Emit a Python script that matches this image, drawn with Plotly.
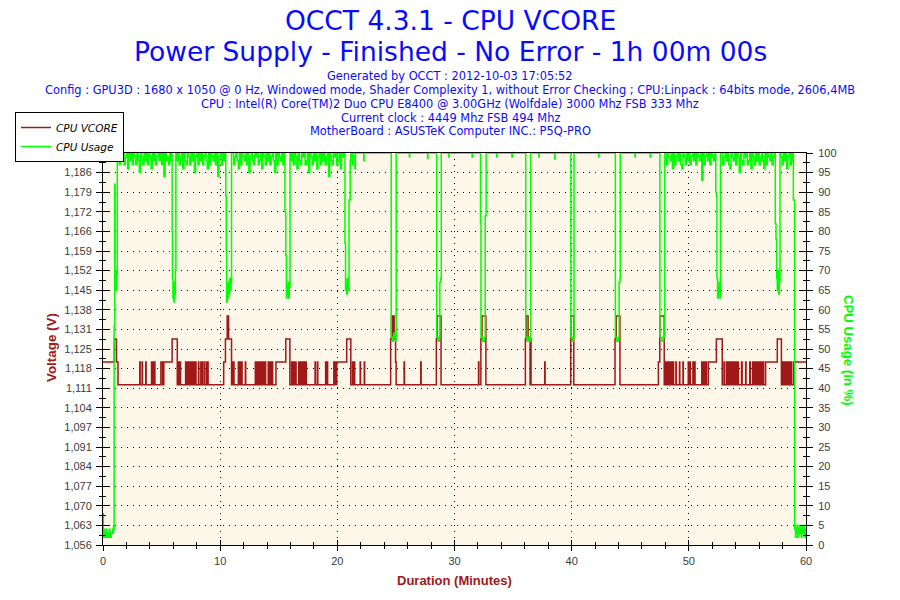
import plotly.graph_objects as go

# ---------------- text ----------------
title_lines = ["OCCT 4.3.1 - CPU VCORE",
               "Power Supply - Finished - No Error - 1h 00m 00s"]
info_lines = [
    "Generated by OCCT : 2012-10-03 17:05:52",
    "Config : GPU3D : 1680 x 1050 @ 0 Hz, Windowed mode, Shader Complexity 1, without Error Checking ; CPU:Linpack : 64bits mode, 2606,4MB",
    "CPU : Intel(R) Core(TM)2 Duo CPU E8400 @ 3.00GHz (Wolfdale) 3000 Mhz FSB 333 Mhz",
    "Current clock : 4449 Mhz FSB 494 Mhz",
    "MotherBoard : ASUSTeK Computer INC.: P5Q-PRO",
]
x_title = "Duration (Minutes)"
y_title = "Voltage (V)"
y2_title = "CPU Usage (in %)"
series_names = ["CPU VCORE", "CPU Usage"]

# ---------------- axes ----------------
duration_range = [0, 60]
voltage_range = [1.056, 1.193]
voltage_ticktext = ["1,056", "1,063", "1,070", "1,077", "1,084", "1,091", "1,097",
                    "1,104", "1,111", "1,118", "1,125", "1,131", "1,138", "1,145",
                    "1,152", "1,159", "1,166", "1,172", "1,179", "1,186", "1,193"]
usage_range = [0, 100]

# ---------------- CPU VCORE (minute, volt) step changes ----------------
vcore_steps = [
    (0.00, 1.120), (0.97, 1.128), (1.15, 1.120), (1.28, 1.112),
    (3.14, 1.120), (3.17, 1.112), (3.34, 1.120), (3.37, 1.112), (3.65, 1.120), (3.68, 1.112),
    (4.14, 1.120), (4.17, 1.112), (4.22, 1.120), (4.26, 1.112), (4.33, 1.120), (4.36, 1.112),
    (4.40, 1.120), (4.43, 1.112),
    (4.94, 1.120), (5.08, 1.112), (5.11, 1.120), (5.16, 1.112), (5.19, 1.120),
    (5.90, 1.128), (6.34, 1.112),
    (6.38, 1.120), (6.41, 1.112), (6.45, 1.120), (6.47, 1.112), (6.52, 1.120), (6.55, 1.112),
    (6.60, 1.120), (6.62, 1.112), (7.05, 1.120), (7.08, 1.112), (7.15, 1.120), (7.18, 1.112),
    (7.25, 1.120), (7.28, 1.112), (7.35, 1.120), (7.39, 1.112), (7.44, 1.120), (7.46, 1.112),
    (7.50, 1.120), (7.55, 1.112), (7.60, 1.120), (7.62, 1.112), (7.70, 1.120), (7.73, 1.112),
    (7.82, 1.120), (7.85, 1.112), (7.92, 1.120), (7.94, 1.112),
    (8.15, 1.120), (8.18, 1.112), (8.35, 1.120), (8.38, 1.112), (8.45, 1.120), (8.47, 1.112),
    (8.62, 1.120), (8.64, 1.112), (8.80, 1.120), (8.83, 1.112), (8.95, 1.120), (8.97, 1.112),
    (10.30, 1.120), (10.45, 1.128), (10.60, 1.136), (10.72, 1.128), (10.97, 1.112),
    (11.00, 1.120), (11.03, 1.112), (11.08, 1.120), (11.10, 1.112), (11.15, 1.120), (11.18, 1.112),
    (11.55, 1.120), (11.58, 1.112), (11.65, 1.120), (11.68, 1.112), (11.75, 1.120), (11.78, 1.112),
    (11.85, 1.120), (11.87, 1.112), (12.15, 1.120), (12.18, 1.112),
    (13.00, 1.120), (13.03, 1.112), (13.15, 1.120), (13.19, 1.112), (13.25, 1.120), (13.28, 1.112),
    (13.35, 1.120), (13.37, 1.112), (13.45, 1.120), (13.48, 1.112), (13.60, 1.120), (13.63, 1.112),
    (13.75, 1.120), (13.78, 1.112), (13.85, 1.120), (13.88, 1.112), (14.10, 1.120), (14.14, 1.112),
    (14.20, 1.120), (14.30, 1.112), (14.35, 1.120), (14.40, 1.112), (14.45, 1.120), (14.48, 1.112),
    (14.76, 1.120), (15.60, 1.128), (15.95, 1.112),
    (16.10, 1.120), (16.13, 1.112), (16.20, 1.120), (16.25, 1.112), (16.30, 1.120), (16.33, 1.112),
    (16.45, 1.120), (16.48, 1.112), (16.70, 1.120), (16.73, 1.112), (16.85, 1.120), (16.88, 1.112),
    (16.95, 1.120), (16.98, 1.112), (17.10, 1.120), (17.14, 1.112),
    (17.20, 1.120), (17.24, 1.112), (17.30, 1.120), (17.35, 1.112),
    (18.10, 1.120), (18.13, 1.112), (18.30, 1.120), (18.33, 1.112), (19.00, 1.120), (19.03, 1.112),
    (19.15, 1.120), (19.17, 1.112), (19.70, 1.120), (19.73, 1.112), (19.80, 1.120), (19.85, 1.112),
    (19.95, 1.120), (20.80, 1.128), (21.15, 1.112),
    (21.30, 1.120), (21.34, 1.112), (21.45, 1.120), (21.48, 1.112), (21.95, 1.120), (21.98, 1.112),
    (22.30, 1.120), (22.33, 1.112),
    (24.55, 1.128), (24.62, 1.136), (24.70, 1.128), (24.75, 1.136), (24.85, 1.128), (24.97, 1.120),
    (25.02, 1.112),
    (25.70, 1.120), (25.73, 1.112), (27.12, 1.120), (27.15, 1.112),
    (28.45, 1.128), (28.52, 1.136), (28.85, 1.112),
    (32.05, 1.120), (32.08, 1.112), (32.25, 1.128), (32.35, 1.136), (32.68, 1.112),
    (36.05, 1.128), (36.12, 1.136), (36.28, 1.128), (36.45, 1.112), (36.50, 1.128), (36.53, 1.112),
    (37.70, 1.120), (37.73, 1.112),
    (39.92, 1.136), (40.18, 1.112),
    (43.70, 1.128), (43.80, 1.136), (44.12, 1.112),
    (47.40, 1.120), (47.52, 1.136), (47.90, 1.112),
    (48.00, 1.120), (48.03, 1.112), (48.10, 1.120), (48.14, 1.112), (48.20, 1.120), (48.28, 1.112),
    (48.35, 1.120), (48.38, 1.112), (48.42, 1.120), (48.45, 1.112), (48.50, 1.120), (48.53, 1.112),
    (48.60, 1.120), (48.63, 1.112), (48.66, 1.120), (48.70, 1.112), (48.90, 1.120), (48.93, 1.112),
    (49.20, 1.120), (49.23, 1.112), (49.50, 1.120), (49.53, 1.112), (49.95, 1.120), (49.98, 1.112),
    (50.10, 1.120), (50.13, 1.112), (50.35, 1.120), (50.40, 1.112), (50.50, 1.120), (50.53, 1.112),
    (51.10, 1.120), (51.15, 1.112), (51.25, 1.120), (51.35, 1.112), (51.45, 1.120), (51.50, 1.112),
    (51.66, 1.120), (52.35, 1.128), (52.85, 1.112),
    (53.00, 1.120), (53.03, 1.112), (53.20, 1.120), (53.30, 1.112), (53.35, 1.120), (53.42, 1.112),
    (53.50, 1.120), (53.55, 1.112), (53.62, 1.120), (53.66, 1.112), (53.72, 1.120), (53.75, 1.112),
    (53.85, 1.120), (53.88, 1.112), (53.95, 1.120), (53.98, 1.112), (54.05, 1.120), (54.08, 1.112),
    (54.20, 1.120), (54.23, 1.112), (54.50, 1.120), (54.55, 1.112), (54.85, 1.120), (54.88, 1.112),
    (55.20, 1.120), (55.25, 1.112), (55.45, 1.120), (55.50, 1.112), (55.60, 1.120), (55.66, 1.112),
    (55.72, 1.120), (55.76, 1.112), (55.85, 1.120), (55.88, 1.112), (55.95, 1.120), (55.98, 1.112),
    (56.02, 1.120), (56.05, 1.112), (56.10, 1.120), (56.13, 1.112), (56.22, 1.120), (56.26, 1.112),
    (56.35, 1.120), (56.38, 1.112),
    (56.55, 1.120), (57.55, 1.128), (57.90, 1.112),
    (58.00, 1.120), (58.05, 1.112), (58.10, 1.120), (58.18, 1.112), (58.25, 1.120), (58.28, 1.112),
    (58.40, 1.120), (58.50, 1.112), (58.60, 1.120), (58.63, 1.112), (58.70, 1.120), (58.78, 1.112),
    (58.95, 1.120), (60.00, 1.120),
]

# ---------------- CPU Usage (minute, %) individual readings ----------------
usage_points = [
    (0.00, 8), (0.03, 3), (0.06, 2), (0.10, 4), (0.15, 2), (0.20, 3), (0.25, 2), (0.30, 4),
    (0.35, 2), (0.40, 3), (0.45, 3), (0.50, 2), (0.55, 4), (0.60, 3), (0.65, 2), (0.70, 3),
    (0.75, 3), (0.80, 4), (0.85, 3), (0.90, 5), (0.93, 4), (0.95, 56), (1.00, 92), (1.03, 66),
    (1.08, 70), (1.13, 65), (1.18, 69), (1.22, 100),
    (5.88, 100), (5.90, 80), (5.93, 68), (5.97, 63), (6.01, 66), (6.05, 62), (6.09, 67),
    (6.13, 64), (6.18, 70), (6.22, 100),
    (10.45, 100), (10.48, 89), (10.52, 75), (10.55, 62), (10.60, 66), (10.65, 63), (10.70, 67),
    (10.75, 64), (10.80, 68), (10.85, 65), (10.93, 67), (10.97, 100),
    (15.50, 100), (15.53, 85), (15.60, 74), (15.65, 63), (15.70, 66), (15.75, 64), (15.80, 67),
    (15.85, 63), (15.90, 66), (15.96, 100),
    (20.62, 100), (20.65, 77), (20.70, 65), (20.75, 67), (20.80, 64), (20.85, 68), (20.90, 65),
    (21.00, 88), (21.10, 98), (21.15, 100),
    (21.28, 97), (21.32, 100), (21.50, 96), (21.54, 100), (22.25, 98), (22.28, 100),
    (24.55, 100), (24.60, 53), (24.70, 52), (24.80, 54), (24.90, 53), (24.98, 52), (25.02, 100),
    (26.15, 99), (26.18, 100), (27.70, 98.6), (27.73, 100),
    (28.45, 100), (28.48, 53), (28.60, 52), (28.70, 53), (28.75, 67), (28.83, 68), (28.87, 100),
    (29.50, 99), (29.53, 100), (31.50, 99), (31.53, 100),
    (32.20, 100), (32.22, 82), (32.26, 53), (32.40, 52), (32.55, 53), (32.62, 84), (32.70, 100),
    (33.60, 99), (33.63, 100), (34.90, 99), (34.93, 100),
    (36.05, 100), (36.08, 53), (36.20, 52), (36.35, 53), (36.45, 52), (36.50, 100),
    (37.20, 99), (37.23, 100), (38.55, 98.5), (38.58, 100),
    (39.90, 100), (39.93, 53), (40.05, 52), (40.15, 53), (40.20, 100),
    (42.30, 99), (42.33, 100),
    (43.70, 100), (43.73, 53), (43.85, 52), (44.00, 53), (44.05, 67), (44.12, 68), (44.15, 100),
    (45.40, 99), (45.43, 100), (46.70, 99), (46.73, 100),
    (47.50, 100), (47.53, 53), (47.70, 52), (47.85, 53), (47.95, 100), (48.00, 100),
    (52.25, 100), (52.30, 90), (52.35, 89), (52.40, 68), (52.45, 63), (52.50, 66), (52.55, 64),
    (52.60, 67), (52.65, 63), (52.70, 100),
    (57.35, 100), (57.38, 82), (57.44, 78), (57.50, 68), (57.55, 65), (57.60, 70), (57.65, 64),
    (57.72, 67), (57.78, 100),
    (58.90, 100), (58.92, 88), (59.00, 88), (59.03, 4), (59.06, 5), (59.10, 2), (59.15, 4),
    (59.20, 3), (59.25, 5), (59.30, 2), (59.35, 4), (59.40, 3), (59.45, 5), (59.50, 3),
    (59.55, 4), (59.60, 2), (59.65, 5), (59.70, 3), (59.75, 4), (59.80, 3), (59.85, 5),
    (59.90, 2), (59.95, 4), (60.00, 3),
]

# full-load stretches, one reading every 0.1 minute from the given start minute
usage_sample_interval = 0.1
usage_load_1_start, usage_load_1 = 1.3, [
    99, 97, 100, 98, 100, 97, 99, 100, 96, 100, 98, 100, 97, 100, 99, 97, 100, 98, 95, 100, 99, 97, 100,
    98, 100, 97, 100, 99, 96, 100, 98, 100, 97, 99, 100, 98, 100, 97, 100, 94, 100, 98, 99, 97, 100, 98]
usage_load_2_start, usage_load_2 = 6.3, [
    98, 100, 97, 99, 100, 96, 100, 98, 97, 100, 99, 97, 100, 98, 100, 95, 99, 100, 97, 100, 98,
    100, 97, 99, 100, 98, 96, 100, 97, 100, 99, 98, 100, 97, 100, 94, 99, 100, 97, 100, 98, 100]
usage_load_3_start, usage_load_3 = 11.05, [
    100, 97, 99, 100, 98, 96, 100, 97, 100, 99, 98, 100, 97, 100, 95, 99, 100, 98, 97, 100, 99, 100, 97,
    98, 100, 96, 100, 99, 97, 100, 98, 100, 97, 99, 100, 98, 95, 100, 97, 100, 99, 98, 100, 97, 100]
usage_load_4_start, usage_load_4 = 16.05, [
    98, 100, 97, 100, 99, 96, 100, 98, 97, 100, 99, 100, 97, 98, 100, 95, 100, 99, 97, 100, 98, 100, 96,
    99, 100, 97, 100, 98, 100, 97, 99, 100, 94, 100, 98, 97, 100, 99, 100, 97, 98, 100, 96, 100, 99, 100]
usage_load_5_start, usage_load_5 = 48.1, [
    97, 100, 99, 98, 100, 96, 100, 97, 99, 100, 98, 100, 97, 96, 100, 99, 97, 100, 98, 100, 97,
    99, 100, 98, 100, 97, 100, 99, 98, 100, 93, 100, 97, 99, 100, 98, 100, 97, 100, 99, 98, 100]
usage_load_6_start, usage_load_6 = 52.8, [
    100, 97, 99, 100, 98, 100, 97, 96, 100, 99, 98, 100, 97, 100, 99, 95, 100, 98, 97, 100, 99, 100, 97,
    98, 100, 96, 100, 99, 97, 100, 98, 100, 97, 99, 100, 98, 96, 100, 97, 100, 99, 98, 100, 97, 99, 100]
usage_load_7_start, usage_load_7 = 57.85, [99, 97, 100, 98, 100, 96, 99, 100, 97, 100, 98]

# ---------------- assemble ----------------
vcore_sorted = sorted(vcore_steps, key=lambda p: p[0])
vcore_t = [p[0] for p in vcore_sorted]
vcore_v = [p[1] for p in vcore_sorted]

load_blocks = [
    (usage_load_1_start, usage_load_1), (usage_load_2_start, usage_load_2),
    (usage_load_3_start, usage_load_3), (usage_load_4_start, usage_load_4),
    (usage_load_5_start, usage_load_5), (usage_load_6_start, usage_load_6),
    (usage_load_7_start, usage_load_7),
]
usage_all = list(usage_points)
for start, vals in load_blocks:
    for i, v in enumerate(vals):
        usage_all.append((round(start + i * usage_sample_interval, 3), v))
usage_all.sort(key=lambda p: p[0])
usage_t = [p[0] for p in usage_all]
usage_v = [p[1] for p in usage_all]

# ---------------- styling ----------------
RED = "#A01818"
GREEN = "#00FF00"
BLUE = "#0A0AFF"
BG = "#FDF7E9"
TICKFONT = dict(family="Liberation Sans, Arial", size=11, color="#3C3C3C")

# the page body adds an 8px offset, so the figure is drawn 8px smaller
OFF = 8
W, H = 900 - OFF, 600 - OFF
L, R, T, B = 103 - OFF, 94, 153 - OFF, 55
PW, PH = W - L - R, H - T - B


def px_x(x):
    return (x - OFF - L) / PW


def px_y(y):
    return (H - B - (y - OFF)) / PH


v0, v1 = voltage_range
n_vt = len(voltage_ticktext) - 1
voltage_tickvals = [v0 + i * (v1 - v0) / n_vt for i in range(n_vt + 1)]
voltage_minor = [v0 + (i + 0.5) * (v1 - v0) / n_vt for i in range(n_vt)]

fig = go.Figure()
fig.add_trace(go.Scatter(x=vcore_t, y=vcore_v, mode="lines", name=series_names[0],
                         line=dict(color=RED, width=1.5, shape="hv"), yaxis="y"))
fig.add_trace(go.Scatter(x=usage_t, y=usage_v, mode="lines", name=series_names[1],
                         line=dict(color=GREEN, width=1.5, shape="hv"), yaxis="y2"))
# helper empty traces so the inner tick axes are drawn
for xa, ya in (("x2", "y"), ("x", "y3"), ("x", "y4")):
    fig.add_trace(go.Scatter(x=[None], y=[None], xaxis=xa, yaxis=ya, showlegend=False,
                             hoverinfo="skip", mode="lines"))

grid = dict(showgrid=True, gridcolor="black", gridwidth=1, griddash="1px,5px")

fig.update_layout(
    width=W, height=H,
    margin=dict(l=L, r=R, t=T, b=B, autoexpand=False),
    paper_bgcolor="white", plot_bgcolor=BG,
    showlegend=True,
    legend=dict(x=px_x(15), y=px_y(112), xanchor="left", yanchor="top",
                bgcolor="white", bordercolor="black", borderwidth=1,
                font=dict(family="DejaVu Sans", size=10.5, color="black", style="italic"),
                tracegroupgap=0, itemwidth=30),
    xaxis=dict(range=duration_range, tick0=0, dtick=10, ticks="outside", ticklen=5,
               tickcolor="black", showline=True, linecolor="black", linewidth=1, mirror=True,
               zeroline=False, tickfont=TICKFONT, ticklabelstandoff=1,
               minor=dict(dtick=2, tick0=0, ticks="outside", ticklen=3, tickcolor="black", showgrid=False),
               **grid),
    xaxis2=dict(range=duration_range, overlaying="x", anchor="y", side="bottom",
                tick0=0, dtick=10, ticks="inside", ticklen=5, tickcolor="black",
                showticklabels=False, showgrid=False, showline=False, zeroline=False,
                minor=dict(dtick=2, tick0=0, ticks="inside", ticklen=3, tickcolor="black", showgrid=False)),
    yaxis=dict(range=voltage_range, tickmode="array", tickvals=voltage_tickvals,
               ticktext=voltage_ticktext, ticks="outside", ticklen=6, tickcolor="black",
               showline=True, linecolor="black", linewidth=1, zeroline=False,
               tickfont=TICKFONT, ticklabelstandoff=2,
               minor=dict(tickmode="array", tickvals=voltage_minor, ticks="outside",
                          ticklen=3, tickcolor="black", showgrid=False),
               **grid),
    yaxis2=dict(range=usage_range, overlaying="y", side="right", anchor="x",
                tick0=0, dtick=5, ticks="outside", ticklen=6, tickcolor="black",
                showline=True, linecolor="black", linewidth=1, zeroline=False,
                showgrid=False, tickfont=TICKFONT, ticklabelstandoff=3,
                minor=dict(dtick=2.5, tick0=0, ticks="outside", ticklen=3, tickcolor="black", showgrid=False)),
    yaxis3=dict(range=voltage_range, overlaying="y", side="left", anchor="x",
                tickmode="array", tickvals=voltage_tickvals, ticks="inside", ticklen=6,
                tickcolor="black", showticklabels=False, showgrid=False, showline=False,
                zeroline=False,
                minor=dict(tickmode="array", tickvals=voltage_minor, ticks="inside",
                           ticklen=3, tickcolor="black", showgrid=False)),
    yaxis4=dict(range=usage_range, overlaying="y", side="right", anchor="x",
                tick0=0, dtick=5, ticks="inside", ticklen=6, tickcolor="black",
                showticklabels=False, showgrid=False, showline=False, zeroline=False,
                minor=dict(dtick=2.5, tick0=0, ticks="inside", ticklen=3, tickcolor="black", showgrid=False)),
)

ann = []
cx = px_x(450)
for text, ypx in zip(title_lines, (21, 51)):
    ann.append(dict(text=text, x=cx, y=px_y(ypx), xref="paper", yref="paper",
                    xanchor="center", yanchor="middle", showarrow=False,
                    font=dict(family="DejaVu Sans", size=26.5, color=BLUE)))
for text, ypx in zip(info_lines, (76, 90, 104, 118, 131)):
    ann.append(dict(text=text, x=cx, y=px_y(ypx), xref="paper", yref="paper",
                    xanchor="center", yanchor="middle", showarrow=False,
                    font=dict(family="DejaVu Sans", size=11.4, color=BLUE)))
ann.append(dict(text="<b>" + y_title + "</b>", x=px_x(51), y=px_y(348), xref="paper", yref="paper",
                xanchor="center", yanchor="middle", textangle=-90, showarrow=False,
                font=dict(family="Liberation Sans, Arial", size=13.4, color=RED)))
ann.append(dict(text="<b>" + y2_title + "</b>", x=px_x(849), y=px_y(350), xref="paper", yref="paper",
                xanchor="center", yanchor="middle", textangle=90, showarrow=False,
                font=dict(family="Liberation Sans, Arial", size=13.2, color=GREEN)))
ann.append(dict(text="<b>" + x_title + "</b>", x=px_x(454), y=px_y(580), xref="paper", yref="paper",
                xanchor="center", yanchor="middle", showarrow=False,
                font=dict(family="Liberation Sans, Arial", size=13, color=RED)))
fig.update_layout(annotations=ann)

fig.write_html("out.html")
